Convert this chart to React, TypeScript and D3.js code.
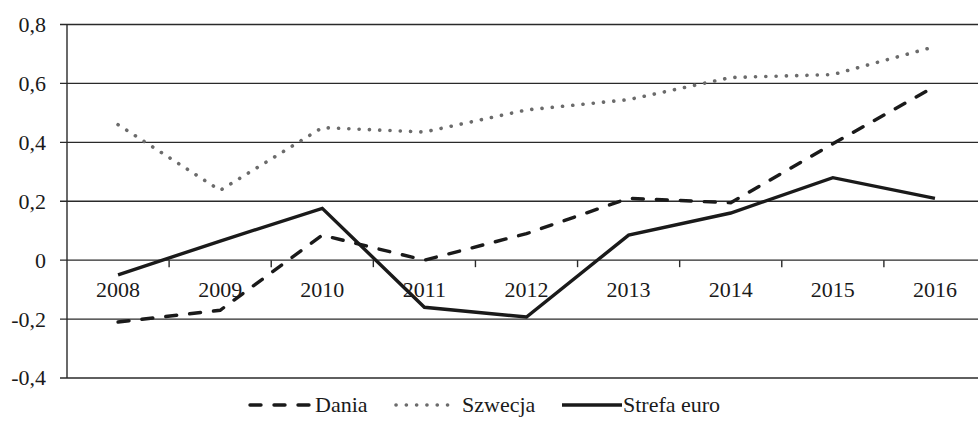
import { line, scaleBand, scaleLinear } from 'd3';
import React from 'react';

const years = ['2008', '2009', '2010', '2011', '2012', '2013', '2014', '2015', '2016'];
const dania = [-0.21, -0.17, 0.085, 0.0, 0.09, 0.21, 0.195, 0.395, 0.59];
const szwecja = [0.46, 0.237, 0.45, 0.435, 0.51, 0.545, 0.62, 0.63, 0.725];
const strefaEuro = [-0.05, 0.065, 0.176, -0.16, -0.193, 0.085, 0.16, 0.28, 0.21];
const yTicks = [-0.4, -0.2, 0, 0.2, 0.4, 0.6, 0.8];

const width = 978;
const height = 422;
const left = 67;
const right = 986;
const top = 24.5;
const bottom = 378;
const font = "'Liberation Serif', 'Times New Roman', 'DejaVu Serif', serif";

const fmt = (v: number) => (v === 0 ? '0' : v.toFixed(1).replace('.', ','));

function App() {
  const x = scaleBand<string>().domain(years).range([left, right]);
  const y = scaleLinear().domain([-0.4, 0.8]).range([bottom, top]);
  const cx = (i: number) => (x(years[i]) ?? 0) + x.bandwidth() / 2;

  const mkLine = line<number>()
    .x((_, i) => cx(i))
    .y((d) => y(d));

  const series = [
    { name: 'Dania', data: dania, stroke: '#1a1a1a', width: 3.4, dash: '11 13', cap: 'round' },
    { name: 'Szwecja', data: szwecja, stroke: '#6b6b6b', width: 3.6, dash: '0.1 10.2', cap: 'round' },
    { name: 'Strefa euro', data: strefaEuro, stroke: '#1a1a1a', width: 3.4, dash: undefined, cap: 'butt' },
  ];

  const legend = [
    { sx: 250, ex: 309, tx: 315 },
    { sx: 396, ex: 456, tx: 462 },
    { sx: 562, ex: 622, tx: 623 },
  ];

  const textStyle = { fontFamily: font, fontSize: 22, fill: '#1a1a1a' };

  return (
    <svg width={width} height={height} style={{ position: 'absolute', left: 0, top: 0, background: '#fff' }}>
      {yTicks.map((t) => (
        <g key={t}>
          <line x1={60} x2={width} y1={y(t)} y2={y(t)} stroke="#2a2a2a" strokeWidth={1.4} />
          <text x={46} y={y(t)} dy="0.34em" textAnchor="end" style={textStyle}>
            {fmt(t)}
          </text>
        </g>
      ))}
      <line x1={left} x2={left} y1={top} y2={bottom} stroke="#2a2a2a" strokeWidth={1.4} />
      {years.map((yr, i) => (
        <g key={yr}>
          {i > 0 && (
            <line x1={x(yr)} x2={x(yr)} y1={y(0)} y2={y(0) + 7} stroke="#2a2a2a" strokeWidth={1.4} />
          )}
          <text x={cx(i)} y={297} textAnchor="middle" style={textStyle}>
            {yr}
          </text>
        </g>
      ))}
      {series.map((s) => (
        <path
          key={s.name}
          d={mkLine(s.data) ?? ''}
          fill="none"
          stroke={s.stroke}
          strokeWidth={s.width}
          strokeDasharray={s.dash}
          strokeLinecap={s.cap as any}
          strokeLinejoin="miter"
        />
      ))}
      {series.map((s, i) => (
        <g key={s.name}>
          <line
            x1={legend[i].sx}
            x2={legend[i].ex}
            y1={405}
            y2={405}
            stroke={s.stroke}
            strokeWidth={s.width}
            strokeDasharray={s.dash}
            strokeLinecap={s.cap as any}
          />
          <text x={legend[i].tx} y={412} style={textStyle}>
            {s.name}
          </text>
        </g>
      ))}
    </svg>
  );
}

export default App;
